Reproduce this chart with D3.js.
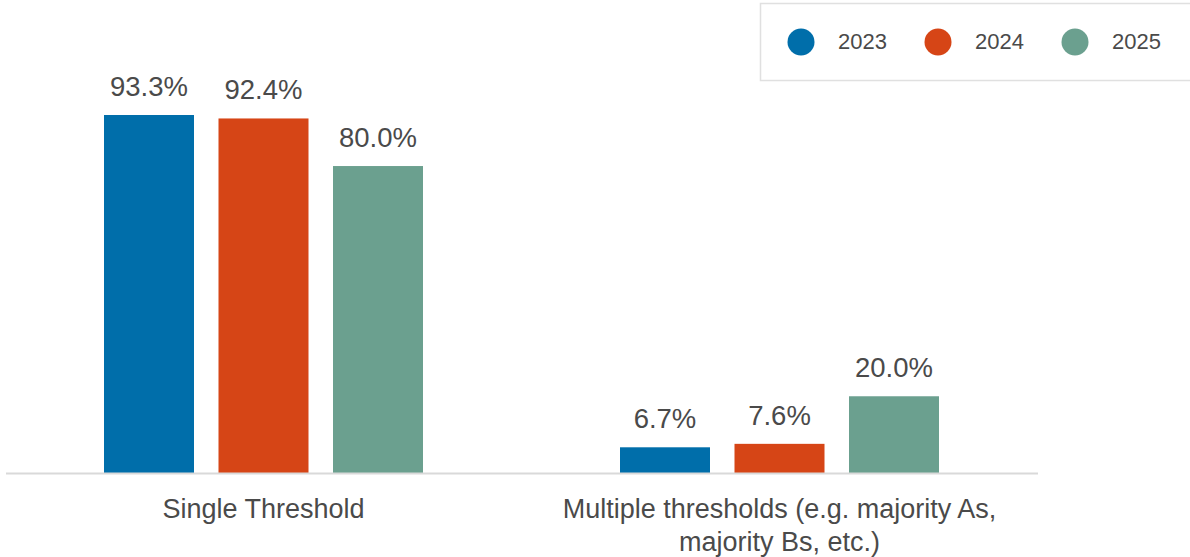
<!DOCTYPE html>
<html><head><meta charset="utf-8">
<script src="https://cdn.jsdelivr.net/npm/d3@7"></script>
<style>body{margin:0;background:#fff;}svg{display:block;font-family:"Liberation Sans",Arial,sans-serif;}</style>
</head><body>
<svg id="c" width="1190" height="557"></svg>
<script>
const categories = ["Single Threshold", "Multiple thresholds (e.g. majority As,|majority Bs, etc.)"];
const seriesNames = ["2023", "2024", "2025"];
const values2023 = [93.3, 6.7];
const values2024 = [92.4, 7.6];
const values2025 = [80.0, 20.0];
const colors = ["#006EAA", "#D64516", "#6BA08F"];

const series = [values2023, values2024, values2025];
const svg = d3.select("#c");
const textColor = "#4a4a4a";

const x0 = d3.scaleBand().domain(categories).range([5.5, 1037.5]).paddingInner(0).paddingOuter(0);
const x1 = d3.scaleBand().domain(seriesNames).range([0, 319]).paddingInner(0.214).paddingOuter(0);
const y = d3.scaleLinear().domain([0, 100]).range([473, 89.3]);

const groups = svg.selectAll("g.grp").data(categories).join("g")
  .attr("transform", d => `translate(${x0(d) + (x0.bandwidth() - 319) / 2},0)`);

groups.each(function(cat, ci) {
  const g = d3.select(this);
  seriesNames.forEach((s, si) => {
    const v = series[si][ci];
    g.append("rect").attr("x", x1(s)).attr("width", x1.bandwidth())
      .attr("y", y(v)).attr("height", y(0) - y(v)).attr("fill", colors[si]);
    g.append("text").attr("x", x1(s) + x1.bandwidth() / 2).attr("y", y(v) - 19)
      .attr("text-anchor", "middle").attr("font-size", 27.5).attr("fill", textColor)
      .text(v.toFixed(1) + "%");
  });
});

// axis
const xAxis = d3.axisBottom(x0).tickSize(0).tickFormat("");
const ax = svg.append("g").attr("transform", `translate(0,${y(0)})`).call(xAxis);
ax.select(".domain").attr("stroke", "#d9d9d9").attr("stroke-width", 2);

categories.forEach(cat => {
  const lines = cat.split("|");
  const t = svg.append("text").attr("text-anchor", "middle").attr("font-size", 27).attr("fill", textColor);
  lines.forEach((ln, i) => {
    t.append("tspan").attr("x", x0(cat) + x0.bandwidth() / 2).attr("y", 518 + i * 33).text(ln);
  });
});

// legend
svg.append("rect").attr("x", 760.5).attr("y", 3.5).attr("width", 440).attr("height", 77)
  .attr("fill", "#fff").attr("stroke", "#e0e0e0").attr("stroke-width", 1.5);
seriesNames.forEach((s, i) => {
  const lx = 801 + i * 137;
  svg.append("circle").attr("cx", lx).attr("cy", 42).attr("r", 13.5).attr("fill", colors[i]);
  svg.append("text").attr("x", lx + 37).attr("y", 48.5).attr("font-size", 22).attr("fill", textColor).text(s);
});
</script>
</body></html>
